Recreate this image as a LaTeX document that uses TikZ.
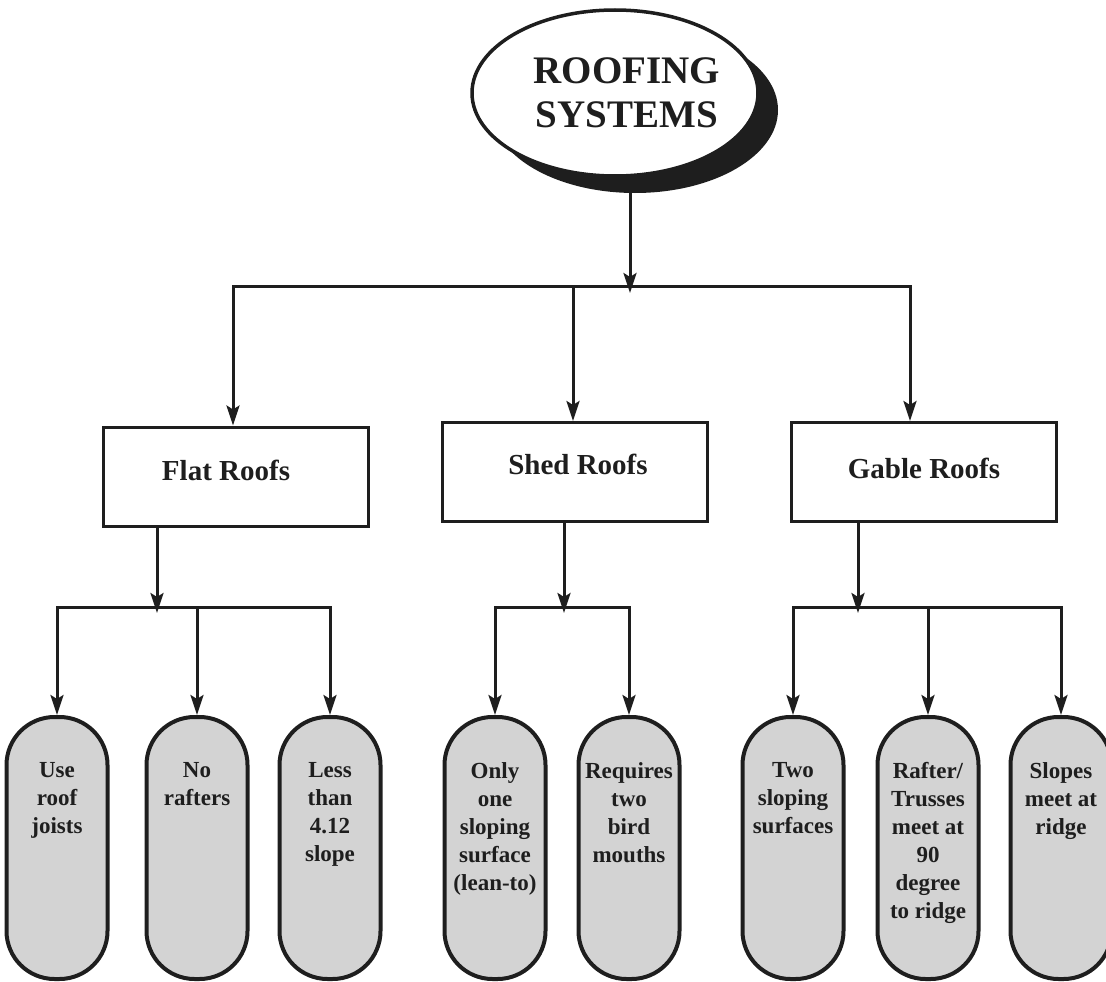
\documentclass[tikz,border=0pt]{standalone}
\usepackage{fontspec}
\setmainfont{Liberation Serif}
\usetikzlibrary{shapes.geometric,arrows.meta}
\definecolor{pillgray}{RGB}{211,211,211}
\definecolor{ink}{RGB}{30,30,30}
\begin{document}
\begin{tikzpicture}[x=1pt,y=-1pt,
  conn/.style={draw=ink,line width=3pt,line cap=rect},
  arr/.style={draw=ink,line width=3pt,-{Stealth[length=20pt,width=13pt,inset=4pt]}},
  catbox/.style={draw=ink,line width=3pt,minimum width=265pt,minimum height=99pt,inner sep=0pt},
  catlabel/.style={font=\bfseries\fontsize{29}{34}\selectfont,text=ink,inner sep=0pt},
  pill/.style={draw=ink,fill=pillgray,line width=4pt,minimum width=101pt,minimum height=262pt,rounded corners=48pt,inner sep=0pt},
  pilltext/.style={font=\bfseries\fontsize{23}{28}\selectfont,align=center,text=ink,inner sep=0pt,anchor=north},
  ell/.style={ellipse,minimum width=286pt,minimum height=166pt,inner sep=0pt}
]
\useasboundingbox (0,0) rectangle (1106,982);
\clip (0,0) rectangle (1106,982);

% title ellipse with shadow
\node[ell,fill=ink] (shadow) at (635,110) {};
\node[ell,draw=ink,fill=white,line width=3.5pt] (title) at (615,93) {};
\node[font=\bfseries\fontsize{39}{44}\selectfont,align=center,inner sep=0pt,text=ink] (titletext) at (627,92.5) {ROOFING\\SYSTEMS};

% category boxes
\node[catbox] (flat) at (235.5,476.5) {};
\node[catbox] (shed) at (575,472) {};
\node[catbox] (gable) at (923.5,472) {};
\node[catlabel] (flatl) at (226,470) {Flat Roofs};
\node[catlabel] (shedl) at (578,464) {Shed Roofs};
\node[catlabel] (gablel) at (924,468) {Gable Roofs};

% top-level junctions
\coordinate (j0) at (630,286);
\coordinate (jf) at (233,286);
\coordinate (js) at (573,286);
\coordinate (jg) at (910,286);
\draw[arr] (shadow.south -| j0) -- ([yshift=-7pt]j0);
\draw[conn] (jf) -- (jg);
\draw[arr] (jf) -- (flat.north -| jf);
\draw[arr] (js) -- (shed.north -| js);
\draw[arr] (jg) -- (gable.north -| jg);

% pills
\node[pill] (p1) at (57,848) {};
\node[pill] (p2) at (197,848) {};
\node[pill] (p3) at (330,848) {};
\node[pill] (p4) at (495,848) {};
\node[pill] (p5) at (629,848) {};
\node[pill] (p6) at (793,848) {};
\node[pill] (p7) at (928,848) {};
\node[pill] (p8) at (1061,848) {};

\node[pilltext] (t1) at ([yshift=-47pt]p1.north) {Use\\roof\\joists};
\node[pilltext] (t2) at ([yshift=-47pt]p2.north) {No\\rafters};
\node[pilltext] (t3) at ([yshift=-47pt]p3.north) {Less\\than\\4.12\\slope};
\node[pilltext] (t4) at ([yshift=-47pt]p4.north) {Only\\one\\sloping\\surface\\(lean-to)};
\node[pilltext] (t5) at ([yshift=-47pt]p5.north) {Requires\\two\\bird\\mouths};
\node[pilltext] (t6) at ([yshift=-47pt]p6.north) {Two\\sloping\\surfaces};
\node[pilltext] (t7) at ([yshift=-47pt]p7.north) {Rafter/\\Trusses\\meet at\\90\\degree\\to ridge};
\node[pilltext] (t8) at ([yshift=-47pt]p8.north) {Slopes\\meet at\\ridge};

% second-level junctions
\coordinate (kf) at (157,607);
\coordinate (ks) at (564,607);
\coordinate (kg) at (858,607);

\draw[arr] (flat.south -| kf) -- ([yshift=-6pt]kf);
\draw[conn] (p1.north |- kf) -- (p3.north |- kf);
\draw[arr] (p1.north |- kf) -- (p1.north);
\draw[arr] (p2.north |- kf) -- (p2.north);
\draw[arr] (p3.north |- kf) -- (p3.north);

\draw[arr] (shed.south -| ks) -- ([yshift=-6pt]ks);
\draw[conn] (p4.north |- ks) -- (p5.north |- ks);
\draw[arr] (p4.north |- ks) -- (p4.north);
\draw[arr] (p5.north |- ks) -- (p5.north);

\draw[arr] (gable.south -| kg) -- ([yshift=-6pt]kg);
\draw[conn] (p6.north |- kg) -- (p8.north |- kg);
\draw[arr] (p6.north |- kg) -- (p6.north);
\draw[arr] (p7.north |- kg) -- (p7.north);
\draw[arr] (p8.north |- kg) -- (p8.north);
\end{tikzpicture}
\end{document}
